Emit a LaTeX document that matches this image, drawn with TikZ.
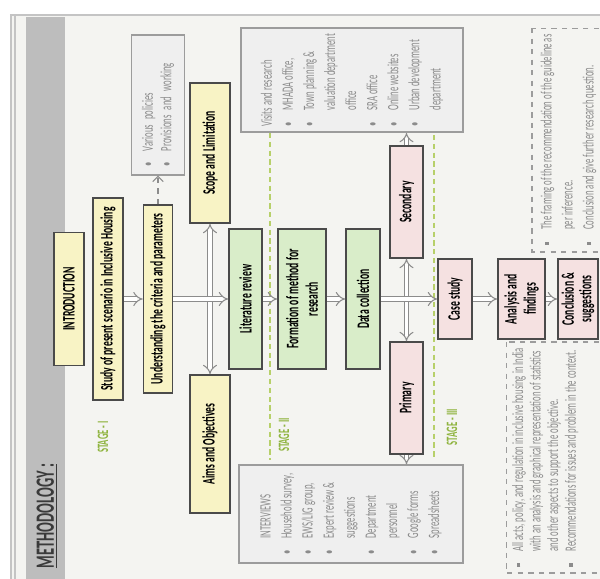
\documentclass[tikz,border=0pt]{standalone}
\usepackage{fontspec}
\usepackage{tikz}
\usetikzlibrary{arrows.meta}
\newfontfamily\cond{Carlito}[FakeStretch=0.55]
\definecolor{pagebg}{HTML}{F4F4F1}
\definecolor{bandgray}{HTML}{BDBDBD}
\definecolor{framegray}{HTML}{C4C4C4}
\definecolor{boxyellow}{HTML}{F8F3C5}
\definecolor{boxgreen}{HTML}{D9EDC9}
\definecolor{boxpink}{HTML}{F5E1E1}
\definecolor{borderdark}{HTML}{4A4A4A}
\definecolor{infofill}{HTML}{EFEFEF}
\definecolor{infoborder}{HTML}{9C9C9C}
\definecolor{infotext}{HTML}{8C8C8C}
\definecolor{arrowgray}{HTML}{8C8C8C}
\definecolor{stagegreen}{HTML}{8FB43F}
\definecolor{stagelinecol}{HTML}{B7D06A}
\definecolor{headgray}{HTML}{3A3A3A}
\newcommand{\itm}{\makebox[1em][l]{\textbullet}}
\newcommand{\sqi}{\makebox[1em][l]{\rule[0.35ex]{0.5ex}{0.5ex}}}
\newcommand{\ind}{\hspace*{1em}}
\tikzstyle{ybox} = [rotate=90, draw=borderdark, line width=0.9pt, fill=boxyellow, inner sep=1pt, font=\cond\bfseries\fontsize{10}{11}\selectfont]
\tikzstyle{gbox} = [ybox, fill=boxgreen, align=center]
\tikzstyle{pbox} = [ybox, fill=boxpink, align=center]
\tikzstyle{infobox} = [rotate=90, draw=infoborder, line width=0.8pt, fill=infofill, text=infotext, align=left, font=\cond\fontsize{9}{12}\selectfont]
\tikzstyle{notebox} = [rotate=90, draw=infoborder, dashed, line width=0.6pt, text=infotext, align=left, font=\cond\fontsize{9}{12}\selectfont]
\tikzstyle{dblarrow} = [draw=arrowgray, line width=0.6pt, double=white, double distance=2.2pt, -Implies]
\tikzstyle{dasharrow} = [draw=arrowgray, dashed, line width=0.6pt, -{Straight Barb[length=3pt]}]
\tikzstyle{stageline} = [draw=stagelinecol, dash pattern=on 3pt off 2pt, line width=1pt]
\tikzstyle{stagelabel} = [rotate=90, text=stagegreen, font=\cond\bfseries\fontsize{9}{10}\selectfont]

\begin{document}
\begin{tikzpicture}[x=0.02cm, y=-0.02cm]
    \useasboundingbox (0,0) rectangle (600,579);
    \clip (0,0) rectangle (600,579);
    \fill[white] (0,0) rectangle (600,579);
    \fill[pagebg] (10,15) rectangle (600,579);
    \fill[bandgray] (26,17) rectangle (65,579);
    \draw[framegray, line width=1.2pt] (10,15) -- (600,15);
    \draw[framegray, line width=1pt] (11,15) -- (11,579);
    \draw[framegray, line width=0.8pt] (15,15) -- (15,579);
    \node (title) [rotate=90, text=headgray, font=\cond\bfseries\fontsize{15}{16}\selectfont] at (47,516) {\underline{METHODOLOGY :}};

    \node (intro) [ybox, minimum width=2.66cm, minimum height=0.6cm] at (69,299) {INTRODUCTION};
    \node (study) [ybox, minimum width=4.04cm, minimum height=0.6cm] at (108,299) {Study of present scenario in Inclusive Housing};
    \node (under) [ybox, minimum width=3.76cm, minimum height=0.58cm] at (158,299) {Understanding the criteria and parameters};
    \node (various) [infobox, minimum width=2.8cm, minimum height=1.06cm, text width=2.48cm, font=\cond\fontsize{9}{10.5}\selectfont] at (158,105) {\raggedright\itm Various policies\\ \itm Provisions and working};
    \node (scope) [ybox, minimum width=2.8cm, minimum height=0.8cm] at (210,153) {Scope and Limitation};
    \node (aims) [ybox, minimum width=2.76cm, minimum height=0.8cm] at (210,444) {Aims and Objectives};
    \node (lit) [gbox, minimum width=2.8cm, minimum height=0.66cm] at (245.5,299) {Literature review};
    \node (form) [gbox, minimum width=2.8cm, minimum height=0.96cm] at (302,299) {Formation of method for\\research};
    \node (data) [gbox, minimum width=2.8cm, minimum height=0.68cm] at (363,299) {Data collection};
    \node (second) [pbox, minimum width=2.24cm, minimum height=0.66cm] at (406.5,202) {Secondary};
    \node (prim) [pbox, minimum width=2.24cm, minimum height=0.66cm] at (406.5,398) {Primary};
    \node (case) [pbox, minimum width=1.6cm, minimum height=0.68cm] at (455,299) {Case study};
    \node (anal) [pbox, minimum width=1.6cm, minimum height=0.94cm] at (521.5,299) {Analysis and\\findings};
    \node (concl) [pbox, minimum width=1.6cm, minimum height=0.8cm, font=\cond\bfseries\fontsize{10}{10}\selectfont] at (578,299) {Conclusion \&\\suggestions};

    \node (visits) [infobox, minimum width=2cm, minimum height=4.44cm] at (352,80) {Visits and research\\ \itm MHADA office,\\ \itm Town planning \&\\ \ind valuation department\\ \ind office\\ \itm SRA office\\ \itm Online websites\\ \itm Urban development\\ \ind department};
    \node (interv) [infobox, minimum width=1.96cm, minimum height=4.48cm] at (351,514) {\ind INTERVIEWS\\ \itm Household survey,\\ \itm EWS/LIG group,\\ \itm Expert review \&\\ \ind suggestions\\ \itm Department\\ \ind personnel\\ \itm Google forms\\ \itm Spreadsheets};
    \node (framing) [notebox, minimum width=4.48cm, minimum height=1.46cm] at (568.5,140) {\sqi The framing of the recommendation of the guideline as\\ \ind per inference.\\ \sqi Conclusion and give further research question.};
    \node (acts) [notebox, minimum width=4.62cm, minimum height=2.14cm, font=\cond\fontsize{9}{10}\selectfont] at (561.5,457.5) {\sqi All acts, policy, and regulation in inclusive housing in India\\ \ind with an analysis and graphical representation of statistics\\ \ind and other aspects to support the objective.\\ \sqi Recommendations for issues and problem in the context.\\ ~\\ ~};

    \coordinate (s2top) at (270,133);
    \coordinate (s2bot) at (270,460);
    \coordinate (s3top) at (434,135);
    \coordinate (s3bot) at (434,460);
    \draw [stageline] (s2top) -- (s2bot);
    \draw [stageline] (s3top) -- (s3bot);
    \node (stage1) [stagelabel] at (103,437) {STAGE - I};
    \node (stage2) [stagelabel] at (284,435) {STAGE - II};
    \node (stage3) [stagelabel] at (452,427) {STAGE - III};

    \draw [dblarrow] (study) -- (under);
    \draw [dasharrow] (under) -- (various);
    \draw [dblarrow, Implies-Implies] (scope) -- (aims);
    \draw [dblarrow] (under) -- (lit);
    \draw [dblarrow] (lit) -- (form);
    \draw [dblarrow] (form) -- (data);
    \draw [dblarrow, Implies-Implies] (second) -- (prim);
    \draw [dblarrow] (data) -- (case);
    \draw [dblarrow] (second.east) -- (second.east |- visits.west);
    \draw [dblarrow] (prim.west) -- (prim.west |- interv.east);
    \draw [dblarrow] (case) -- (anal);
    \draw [dblarrow] (anal) -- (concl);
\end{tikzpicture}
\end{document}
